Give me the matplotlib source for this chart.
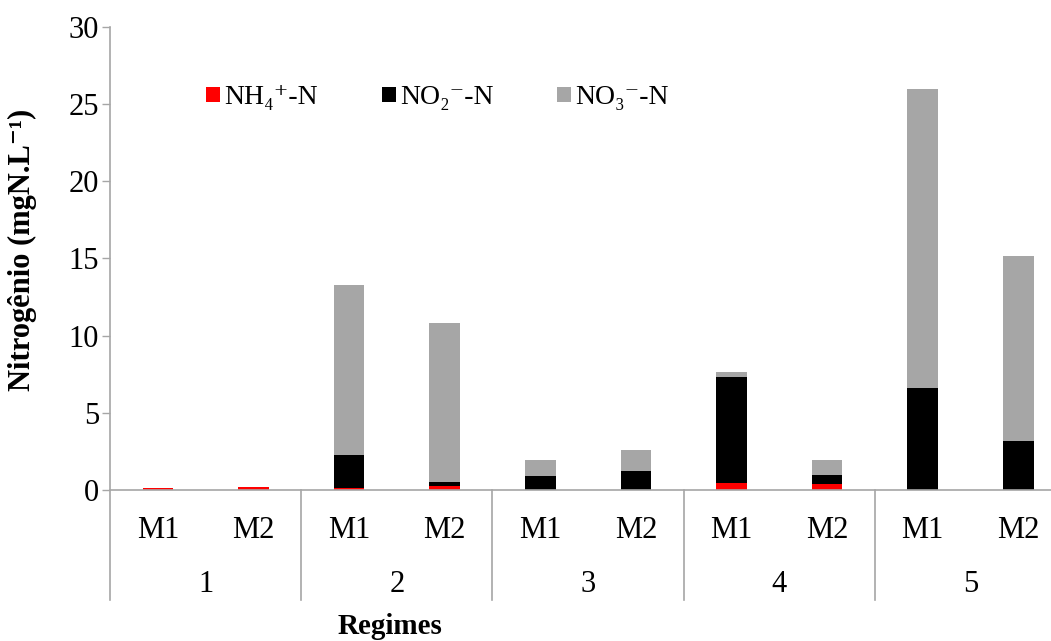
import matplotlib
matplotlib.use('Agg')
import matplotlib.pyplot as plt
import numpy as np

plt.rcParams['font.family'] = ['Liberation Serif', 'DejaVu Serif']

regimes = ['1', '2', '3', '4', '5']
modules = ['M1', 'M2'] * 5

# stacked values (mgN/L)
nh4 = [0.11, 0.22, 0.11, 0.28, 0.02, 0.02, 0.45, 0.37, 0.02, 0.02]
no2 = [0.0, 0.0, 2.14, 0.24, 0.88, 1.19, 6.89, 0.62, 6.61, 3.18]
no3 = [0.0, 0.0, 11.05, 10.28, 1.05, 1.36, 0.31, 0.95, 19.37, 11.95]

labels = ['NH\u2084\u207a-N', 'NO\u2082\u207b-N', 'NO\u2083\u207b-N']
colors = ['#FF0000', '#000000', '#A6A6A6']
axis_gray = '#A6A6A6'

fig = plt.figure(figsize=(10.51, 6.41), dpi=100)
ax = fig.add_axes([0.1047, 0.2356, 0.9096, 0.7223])

x = np.arange(len(modules))
w = 0.32
b1 = np.array(nh4)
b2 = b1 + np.array(no2)
ax.bar(x, nh4, w, color=colors[0], label=labels[0])
ax.bar(x, no2, w, bottom=b1, color=colors[1], label=labels[1])
ax.bar(x, no3, w, bottom=b2, color=colors[2], label=labels[2])

ax.set_xlim(-0.5, len(modules) - 0.5)
ax.set_ylim(0, 30)
ax.set_yticks(np.arange(0, 31, 5))
ax.tick_params(axis='y', labelsize=22, length=6, width=1, color=axis_gray, pad=2)

ax.spines['top'].set_visible(False)
ax.spines['right'].set_visible(False)
ax.spines['left'].set_visible(False)
ax.spines['bottom'].set_color(axis_gray)
ax.spines['bottom'].set_linewidth(1.2)

# category axis: M1/M2 and regime groups
ax.set_xticks(x)
ax.set_xticklabels(modules, fontsize=22)
ax.tick_params(axis='x', length=0, pad=19)

trans = ax.get_xaxis_transform()
low = -110 / 463
for sep in np.arange(-0.5, len(modules), 2):
    top = 1.0 if sep == -0.5 else 0
    ax.plot([sep, sep], [low, top], color=axis_gray, lw=1.2,
            transform=trans, clip_on=False)
for i, r in enumerate(regimes):
    ax.text(2 * i + 0.5, -0.205, r, transform=trans, ha='center', va='center',
            fontsize=22)

fig.text(22 / 1051, 1 - 250 / 641, 'Nitrogênio (mgN.L\u207b\u00b9)',
         fontsize=22, fontweight='bold', rotation=90, ha='center', va='center')
fig.text(390 / 1051, 1 - 626 / 641, 'Regimes', fontsize=21, fontweight='bold',
         ha='center', va='center')

ax.legend(loc='center left', bbox_to_anchor=(0.086, 0.847), ncol=3, frameon=False,
          fontsize=20, borderpad=0, handlelength=0.5, handleheight=0.5,
          handletextpad=0.15, columnspacing=2.3)

fig.savefig('out.png', dpi=100)
